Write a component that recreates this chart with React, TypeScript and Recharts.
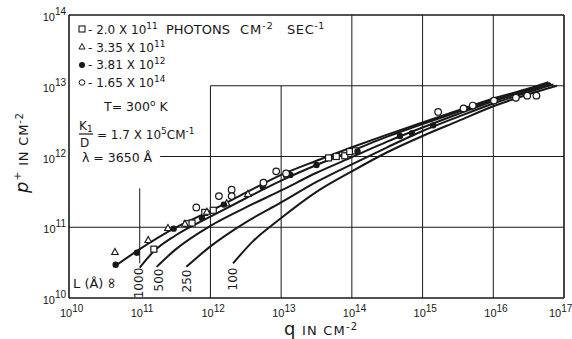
import { ComposedChart, Line, Scatter, XAxis, YAxis, ReferenceLine } from "recharts";

const INK = "#181818";
const W = 572;
const H = 339;

// all values are log10: x = log q, y = log p+ (both cm^-2)
const X_TICKS = [10, 11, 12, 13, 14, 15, 16, 17];
const Y_TICKS = [10, 11, 12, 13, 14];

// computed curves, one per L (Å)
const CURVE_INF = [[10.65, 10.45], [11, 10.69], [11.5, 10.99], [12, 11.23], [12.5, 11.49], [13, 11.74], [13.5, 11.94], [14, 12.13], [14.5, 12.31], [15, 12.48], [15.5, 12.65], [16, 12.82], [16.5, 12.96], [16.78, 13.05]];
const CURVE_1000 = [[11.0, 10.43], [11.2, 10.66], [11.5, 10.88], [12, 11.15], [12.5, 11.41], [13, 11.66], [13.5, 11.88], [14, 12.08], [14.5, 12.28], [15, 12.46], [15.5, 12.63], [16, 12.8], [16.5, 12.95], [16.8, 13.04]];
const CURVE_500 = [[11.24, 10.44], [11.5, 10.68], [12, 11.02], [12.5, 11.28], [13, 11.52], [13.5, 11.77], [14, 11.99], [14.5, 12.21], [15, 12.41], [15.5, 12.6], [16, 12.78], [16.5, 12.93], [16.82, 13.03]];
const CURVE_250 = [[11.66, 10.44], [12, 10.73], [12.5, 11.07], [13, 11.35], [13.5, 11.64], [14, 11.89], [14.5, 12.13], [15, 12.36], [15.5, 12.56], [16, 12.75], [16.5, 12.91], [16.85, 13.02]];
const CURVE_100 = [[12.32, 10.49], [12.6, 10.8], [13, 11.13], [13.5, 11.5], [14, 11.79], [14.5, 12.06], [15, 12.29], [15.5, 12.5], [16, 12.71], [16.5, 12.88], [16.9, 13.0]];

// measured points, one set per photon flux
const PTS_2_0E11 = [[11.2, 10.69], [11.67, 11.05], [11.74, 11.06], [11.92, 11.21], [12.04, 11.24], [13.08, 11.75], [13.67, 11.98], [13.78, 12.0], [13.9, 12.01], [13.97, 12.07], [14.05, 12.08]];
const PTS_3_35E11 = [[10.65, 10.65], [11.12, 10.82], [11.4, 10.99], [11.64, 11.05], [11.95, 11.22], [12.23, 11.34], [12.53, 11.47]];
const PTS_3_81E12 = [[10.66, 10.47], [10.96, 10.64], [11.48, 10.98], [11.88, 11.13], [12.19, 11.32], [12.74, 11.57], [13.13, 11.74], [13.5, 11.88], [14.08, 12.07], [14.68, 12.29], [14.85, 12.33], [15.15, 12.44]];
const PTS_1_65E14 = [[11.8, 11.28], [12.12, 11.44], [12.3, 11.53], [12.3, 11.44], [12.75, 11.63], [12.93, 11.79], [13.07, 11.76], [15.22, 12.63], [15.58, 12.68], [15.71, 12.72], [16.01, 12.79], [16.32, 12.83], [16.48, 12.86], [16.61, 12.86]];

// the grid is partial: no rules behind the legend block
const H_RULES = [[13, 12, 17], [12, 11.29, 17], [11, 10, 17]]; // y, x from, x to
const V_RULES = [[11, 10.49, 11.55], [12, 10, 13], [13, 10, 13], [14, 10, 14], [15, 10, 14], [16, 10, 14]]; // x, y from, y to

const pts = (a: number[][]) => a.map(([x, y]) => ({ x, y }));

const Square = ({ cx, cy }: any) => (
  <rect x={cx - 3} y={cy - 3} width={6} height={6} fill="#fff" stroke={INK} strokeWidth={1.2} />
);
const Triangle = ({ cx, cy }: any) => (
  <path d={`M${cx},${cy - 3.5} L${cx + 3.3},${cy + 2.5} L${cx - 3.3},${cy + 2.5} Z`} fill="#fff" stroke={INK} strokeWidth={1.1} />
);
const Dot = ({ cx, cy }: any) => <circle cx={cx} cy={cy} r={3.2} fill={INK} />;
const Ring = ({ cx, cy }: any) => <circle cx={cx} cy={cy} r={3.3} fill="#fff" stroke={INK} strokeWidth={1.2} />;

const XTick = ({ x, y, payload }: any) => (
  <text x={Math.min(x - 9, W - 23)} y={y + 19} fontFamily="Liberation Sans" fontSize={11} fill={INK}>
    10<tspan dy={-5} fontSize={10}>{payload.value}</tspan>
  </text>
);
const YTick = ({ x, y, payload }: any) => (
  <text x={x - 3} y={y + 6} textAnchor="end" fontFamily="Liberation Sans" fontSize={11} fill={INK}>
    10<tspan dy={-6} fontSize={10}>{payload.value}</tspan>
  </text>
);

function Annotations() {
  const f = { fontFamily: "DejaVu Sans", fontSize: 12, fill: INK } as const;
  const vlabel = (x: number, y: number, s: string, size = 12) => (
    <text transform={`translate(${x},${y}) rotate(-90)`} textAnchor="middle" dominantBaseline="central" {...f} fontSize={size}>
      {s}
    </text>
  );
  return (
    <svg width={W} height={H} style={{ position: "absolute", left: 0, top: 0, pointerEvents: "none" }}>
      <rect x={79} y={26} width={6} height={6} fill="#fff" stroke={INK} strokeWidth={1.1} />
      <text x={88} y={34} {...f}>
        - 2.0 X 10<tspan dy={-5} fontSize={9}>11</tspan>
      </text>
      <text x={166} y={34} {...f} fontSize={13}>PHOTONS</text>
      <text x={240} y={34} {...f} fontSize={13} letterSpacing={1}>
        CM<tspan dy={-5} fontSize={9.5}>-2</tspan>
      </text>
      <text x={287} y={34} {...f} fontSize={13} letterSpacing={0.6}>
        SEC<tspan dy={-5} fontSize={9.5}>-1</tspan>
      </text>
      <path d="M82,43.5 L85,49 L79,49 Z" fill="#fff" stroke={INK} strokeWidth={1} />
      <text x={88} y={52} {...f}>
        - 3.35 X 10<tspan dy={-5} fontSize={9}>11</tspan>
      </text>
      <circle cx={82} cy={65} r={3} fill={INK} />
      <text x={88} y={69} {...f}>
        - 3.81 X 10<tspan dy={-5} fontSize={9}>12</tspan>
      </text>
      <circle cx={82} cy={82.5} r={2.8} fill="#fff" stroke={INK} strokeWidth={1} />
      <text x={88} y={87} {...f}>
        - 1.65 X 10<tspan dy={-5} fontSize={9}>14</tspan>
      </text>
      <text x={104} y={111} {...f} fontSize={12.5}>
        T= 300<tspan dy={-5} fontSize={9}>o</tspan>
        <tspan dy={5}> K</tspan>
      </text>
      <text x={79} y={130} {...f}>
        K<tspan dy={2} fontSize={9}>1</tspan>
      </text>
      <line x1={79} y1={134} x2={93} y2={134} stroke={INK} strokeWidth={1.2} />
      <text x={80} y={147} {...f}>D</text>
      <text x={97} y={139} {...f}>
        = 1.7 X 10<tspan dy={-5} fontSize={9}>5</tspan>
        <tspan dy={5}>CM</tspan>
        <tspan dy={-5} fontSize={9}>-1</tspan>
      </text>
      <text x={82} y={162} {...f} fontSize={12.5}>λ = 3650 Å</text>

      <text x={73} y={288} {...f} fontSize={13}>L (Å)</text>
      {vlabel(111, 283, "∞", 15)}
      {vlabel(139, 283, "1000")}
      {vlabel(159, 280, "500")}
      {vlabel(187, 281, "250")}
      {vlabel(233, 279, "100")}

      <text transform="translate(28,193) rotate(-90)" {...f} fontSize={13} letterSpacing={0.8}>
        <tspan fontSize={18} fontStyle="italic">p</tspan>
        <tspan dy={-7} fontSize={11}>+</tspan>
        <tspan dy={7}> IN CM</tspan>
        <tspan dy={-5} fontSize={10}>-2</tspan>
      </text>
      <text x={284} y={335} {...f} fontSize={13} letterSpacing={1.2}>
        <tspan fontSize={18}>q</tspan>
        <tspan>  IN  CM</tspan>
        <tspan dy={-5} fontSize={10}>-2</tspan>
      </text>
    </svg>
  );
}

export default function App() {
  const curves = [CURVE_INF, CURVE_1000, CURVE_500, CURVE_250, CURVE_100];
  return (
    <div style={{ position: "absolute", left: 0, top: 0, width: W, height: H, background: "#fff" }}>
      <ComposedChart width={W} height={H} margin={{ top: 15, right: 8, left: 9, bottom: 11 }}>
        <XAxis
          type="number"
          dataKey="x"
          domain={[10, 17]}
          ticks={X_TICKS}
          height={30}
          tickSize={0}
          tickMargin={0}
          axisLine={false}
          tickLine={false}
          tick={<XTick />}
          interval={0}
        />
        <YAxis
          type="number"
          dataKey="y"
          domain={[10, 14]}
          ticks={Y_TICKS}
          width={60}
          tickSize={0}
          tickMargin={0}
          axisLine={false}
          tickLine={false}
          tick={<YTick />}
          interval={0}
        />
        {H_RULES.map(([y, a, b]) => (
          <ReferenceLine key={`h${y}`} segment={[{ x: a, y }, { x: b, y }]} stroke={INK} strokeWidth={1} />
        ))}
        {V_RULES.map(([x, a, b]) => (
          <ReferenceLine key={`v${x}`} segment={[{ x, y: a }, { x, y: b }]} stroke={INK} strokeWidth={1} />
        ))}
        <ReferenceLine segment={[{ x: 10, y: 10 }, { x: 17, y: 10 }]} stroke={INK} strokeWidth={1.6} />
        <ReferenceLine segment={[{ x: 10, y: 14 }, { x: 17, y: 14 }]} stroke={INK} strokeWidth={1.6} />
        <ReferenceLine segment={[{ x: 10, y: 10 }, { x: 10, y: 14 }]} stroke={INK} strokeWidth={1.6} />
        <ReferenceLine segment={[{ x: 17, y: 10 }, { x: 17, y: 14 }]} stroke={INK} strokeWidth={1.6} />
        {curves.map((c, i) => (
          <Line
            key={i}
            data={pts(c)}
            dataKey="y"
            type="monotone"
            dot={false}
            stroke={INK}
            strokeWidth={2}
            isAnimationActive={false}
          />
        ))}
        <Scatter data={pts(PTS_2_0E11)} shape={<Square />} isAnimationActive={false} />
        <Scatter data={pts(PTS_3_35E11)} shape={<Triangle />} isAnimationActive={false} />
        <Scatter data={pts(PTS_3_81E12)} shape={<Dot />} isAnimationActive={false} />
        <Scatter data={pts(PTS_1_65E14)} shape={<Ring />} isAnimationActive={false} />
      </ComposedChart>
      <Annotations />
    </div>
  );
}
